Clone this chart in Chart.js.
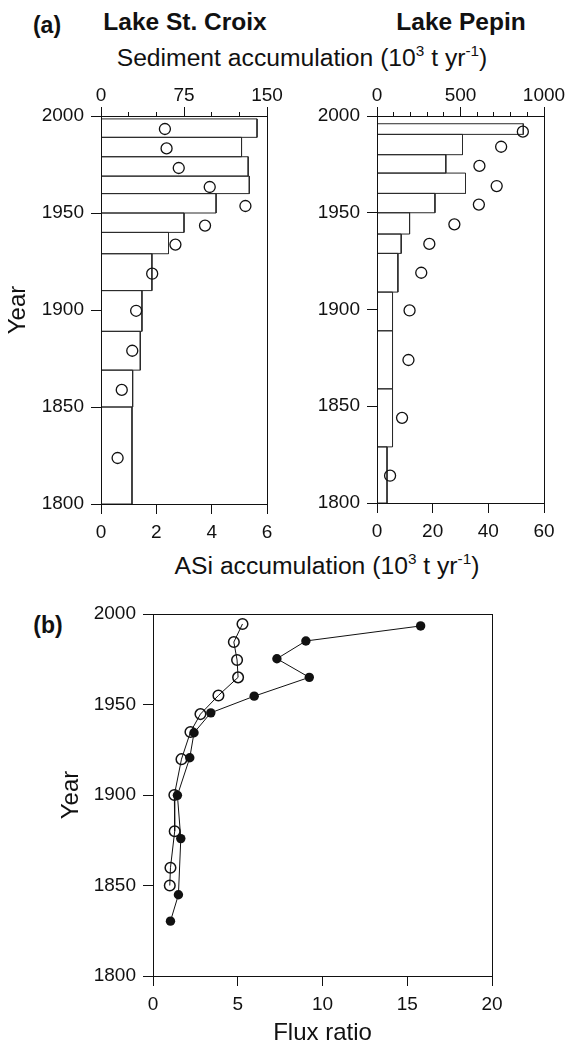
<!DOCTYPE html>
<html>
<head>
<meta charset="utf-8">
<script src="https://cdn.jsdelivr.net/npm/chart.js@4.4.1/dist/chart.umd.min.js"></script>
<style>
  html, body { margin: 0; padding: 0; background: #fff; }
  body { width: 569px; height: 1045px; position: relative; overflow: hidden;
         font-family: "Liberation Sans", Arial, sans-serif; color: #111; }
  canvas { position: absolute; }
  .lbl { position: absolute; white-space: nowrap; line-height: 1; transform: translate(-50%, -50%); }
  .bold { font-weight: bold; }
  sup { font-size: 0.62em; vertical-align: 0.6em; line-height: 0; }
</style>
</head>
<body>
<div class="lbl bold" style="left:47px; top:25px; font-size:23px">(a)</div>
<div class="lbl bold" style="left:185px; top:22px; font-size:24.5px">Lake St. Croix</div>
<div class="lbl bold" style="left:461px; top:22px; font-size:24.5px">Lake Pepin</div>
<div class="lbl" style="left:302px; top:58px; font-size:24.7px">Sediment accumulation (10<sup>3</sup> t yr<sup>-1</sup>)</div>
<div class="lbl" style="left:327px; top:566px; font-size:24.7px">ASi accumulation (10<sup>3</sup> t yr<sup>-1</sup>)</div>
<div class="lbl bold" style="left:48px; top:625px; font-size:23px">(b)</div>

<canvas id="croix" style="left:0; top:0"></canvas>
<canvas id="pepin" style="left:290px; top:0"></canvas>
<canvas id="flux" style="left:0; top:580px"></canvas>

<script>
// ---- data ----
const yearTicks = [1800, 1850, 1900, 1950, 2000];

// Lake St. Croix: sediment accumulation (boxes, top axis) per core interval
const croixBounds = [1998.5, 1989, 1979, 1969, 1960, 1950, 1940, 1929, 1910, 1889, 1869, 1850, 1800];
const croixSediment = [141, 127, 133, 134, 104, 75, 61, 46, 37, 35.5, 28.6, 28];
// ASi accumulation (circles, bottom axis)
const croixAsiYears = [1993.3, 1983.3, 1973.2, 1963.4, 1953.6, 1943.5, 1933.7, 1918.7, 1899.6, 1879, 1858.8, 1823.7];
const croixAsi = [2.31, 2.37, 2.81, 3.93, 5.22, 3.76, 2.69, 1.85, 1.27, 1.13, 0.75, 0.6];
const croixSedTicks = [0, 75, 150];
const croixSedMinor = [25, 50, 100, 125];
const croixAsiTicks = [0, 2, 4, 6];

// Lake Pepin
const pepinBounds = [1996, 1990.5, 1980, 1970.5, 1960, 1950, 1939, 1929, 1909, 1889, 1859, 1829, 1800];
const pepinSediment = [876, 512, 412, 530, 347, 195, 145, 125, 93, 93, 93, 60];
const pepinAsiYears = [1991.9, 1984.1, 1974.2, 1963.8, 1954.2, 1944, 1933.9, 1919, 1899.5, 1873.9, 1844, 1814.1];
const pepinAsi = [52.4, 44.6, 36.8, 43.0, 36.6, 27.8, 18.8, 15.9, 11.7, 11.3, 9.0, 4.7];
const pepinSedTicks = [0, 500, 1000];
const pepinSedMinor = [100, 200, 300, 400, 600, 700, 800, 900];
const pepinAsiTicks = [0, 20, 40, 60];

// (b) flux ratio
const ratioFilledYears = [1993.4, 1985.1, 1975.3, 1965, 1954.6, 1945.4, 1934.4, 1920.6, 1899.8, 1875.9, 1844.9, 1830.3];
const ratioFilled = [15.79, 9.02, 7.31, 9.22, 5.97, 3.41, 2.42, 2.17, 1.44, 1.64, 1.5, 1.03];
const ratioOpenYears = [1994.5, 1984.5, 1974.6, 1965, 1955, 1944.7, 1934.8, 1919.8, 1900, 1880, 1859.8, 1850];
const ratioOpen = [5.28, 4.77, 4.96, 5.02, 3.86, 2.8, 2.21, 1.68, 1.26, 1.28, 1.03, 0.99];
const fluxTicks = [0, 5, 10, 15, 20];

// ---- helpers ----
const INK = '#111';
Chart.defaults.font.family = '"Liberation Sans", Arial, sans-serif';
Chart.defaults.font.size = 19;
Chart.defaults.color = INK;
Chart.defaults.animation = false;

function pairs(xs, ys) {
    return xs.map((x, i) => ({ x: x, y: ys[i] }));
}

// outline of each interval box: (0,top) -> (v,top) -> (v,bottom) -> (0,bottom), then a gap
function boxes(bounds, values) {
    const pts = [];
    values.forEach((v, i) => {
        const top = bounds[i], bottom = bounds[i + 1];
        pts.push({ x: 0, y: top }, { x: v, y: top }, { x: v, y: bottom }, { x: 0, y: bottom }, { x: 0, y: null });
    });
    return pts;
}

function axis(position, min, max, ticks, size, extra) {
    return Object.assign({
        type: 'linear',
        position: position,
        min: min,
        max: max,
        border: { display: false },
        grid: { drawOnChartArea: false, drawTicks: true, tickLength: 10, tickColor: INK },
        ticks: { padding: 7, autoSkip: false, maxRotation: 0, callback: v => String(v) },
        afterBuildTicks: s => { s.ticks = ticks.map(v => ({ value: v })); },
        afterFit: s => { if (s.isHorizontal()) s.height = size; else s.width = size; }
    }, extra || {});
}

const frame = {
    id: 'frame',
    afterDraw(chart) {
        const a = chart.chartArea, ctx = chart.ctx;
        ctx.save();
        ctx.strokeStyle = INK;
        ctx.lineWidth = 1;
        ctx.strokeRect(a.left + 0.5, a.top + 0.5, a.right - a.left, a.bottom - a.top);
        ctx.restore();
    }
};

const minorTicks = {
    id: 'minorTicks',
    afterDraw(chart, args, opts) {
        if (!opts || !opts.scale) return;
        const s = chart.scales[opts.scale], ctx = chart.ctx;
        ctx.save();
        ctx.strokeStyle = INK;
        ctx.lineWidth = 1;
        ctx.beginPath();
        opts.values.forEach(v => {
            const x = Math.round(s.getPixelForValue(v) - 0.5) + 0.5;
            ctx.moveTo(x, s.bottom);
            ctx.lineTo(x, s.bottom - opts.length);
        });
        ctx.stroke();
        ctx.restore();
    }
};

function lakeChart(id, w, h, yWidth, padRight, bottomH, yTitle, sedMax, sedTicks, sedMinor, asiMax, asiTicks, bounds, sed, asiYears, asi) {
    const cv = document.getElementById(id);
    cv.width = w; cv.height = h;
    return new Chart(cv, {
        type: 'scatter',
        data: {
            datasets: [
                {
                    data: pairs(asi, asiYears),
                    xAxisID: 'x',
                    pointStyle: 'circle',
                    pointRadius: 5.5,
                    pointBorderWidth: 1.3,
                    pointBorderColor: INK,
                    pointBackgroundColor: 'rgba(0,0,0,0)',
                    showLine: false
                },
                {
                    data: boxes(bounds, sed),
                    xAxisID: 'x2',
                    showLine: true,
                    spanGaps: false,
                    borderColor: '#2a2a2a',
                    borderWidth: 1,
                    pointRadius: 0,
                    pointHoverRadius: 0,
                    fill: false
                }
            ]
        },
        options: {
            responsive: false,
            layout: { padding: { left: 0, right: padRight, top: 0, bottom: 0 } },
            plugins: {
                legend: { display: false },
                tooltip: { enabled: false },
                minorTicks: { scale: 'x2', values: sedMinor, length: 4 }
            },
            scales: {
                x: axis('bottom', 0, asiMax, asiTicks, bottomH, {}),
                x2: axis('top', 0, sedMax, sedTicks, 116, {
                    grid: { drawOnChartArea: false, tickLength: 9, tickColor: INK },
                    ticks: { padding: 0, autoSkip: false, maxRotation: 0, callback: v => String(v) }
                }),
                y: axis('left', 1800, 2000, yearTicks, yWidth, {
                    title: yTitle ? { display: true, text: 'Year', font: { size: 24, lineHeight: 1 }, padding: { top: 6, bottom: 0 } } : { display: false }
                })
            }
        },
        plugins: [frame, minorTicks]
    });
}

lakeChart('croix', 290, 560, 101, 23, 56, true, 150, croixSedTicks, croixSedMinor, 6, croixAsiTicks,
    croixBounds, croixSediment, croixAsiYears, croixAsi);
lakeChart('pepin', 279, 560, 87, 25, 57, false, 1000, pepinSedTicks, pepinSedMinor, 60, pepinAsiTicks,
    pepinBounds, pepinSediment, pepinAsiYears, pepinAsi);

// ---- (b) flux ratio ----
const fluxCanvas = document.getElementById('flux');
fluxCanvas.width = 569; fluxCanvas.height = 465;
new Chart(fluxCanvas, {
    type: 'scatter',
    data: {
        datasets: [
            {
                data: pairs(ratioFilled, ratioFilledYears),
                showLine: true,
                borderColor: INK,
                borderWidth: 1,
                pointRadius: 4.7,
                pointBorderWidth: 0,
                pointBackgroundColor: INK
            },
            {
                data: pairs(ratioOpen, ratioOpenYears),
                showLine: true,
                borderColor: INK,
                borderWidth: 1,
                pointRadius: 5.3,
                pointBorderWidth: 1.5,
                pointBorderColor: INK,
                pointBackgroundColor: 'rgba(0,0,0,0)'
            }
        ]
    },
    options: {
        responsive: false,
        layout: { padding: { left: 57, right: 77, top: 34, bottom: 0 } },
        plugins: { legend: { display: false }, tooltip: { enabled: false } },
        scales: {
            x: axis('bottom', 0, 20, fluxTicks, 69, {
                title: { display: true, text: 'Flux ratio', font: { size: 24, lineHeight: 1 }, padding: { top: 0, bottom: 0 } }
            }),
            y: axis('left', 1800, 2000, yearTicks, 96, {
                title: { display: true, text: 'Year', font: { size: 24, lineHeight: 1 }, padding: { top: 2, bottom: 0 } }
            })
        }
    },
    plugins: [frame]
});
</script>
</body>
</html>
